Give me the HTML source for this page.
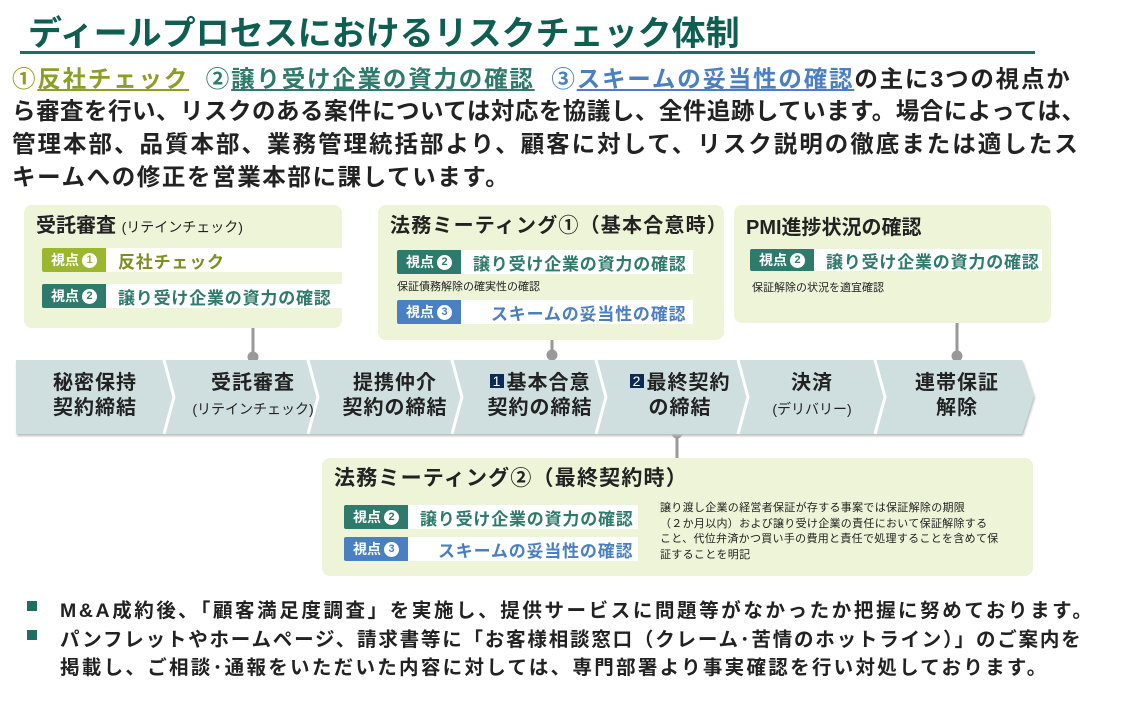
<!DOCTYPE html>
<html><head><meta charset="utf-8">
<style>
body{margin:0;width:1129px;height:712px;background:#fff;position:relative;overflow:hidden;font-family:"Liberation Sans","Noto Sans CJK JP",sans-serif;font-weight:bold;color:#222;}
.a{position:absolute;white-space:nowrap;}
.box{position:absolute;background:#eef4d8;border-radius:8px;}
.tag{position:absolute;height:24px;display:flex;align-items:center;}
.tag .t{width:64px;height:24px;color:#fff;font-size:14px;display:flex;align-items:center;justify-content:center;border-radius:2px 0 0 2px}
.tag .v{background:#fff;height:24px;flex:1;display:flex;align-items:center;padding-left:12px;font-size:17px;letter-spacing:0.8px}
.g1 .t{background:#9ab72d}.g1 .v{color:#7a8f1e}
.g2 .t{background:#2e7a6c}.g2 .v{color:#2e7a6c}
.g3 .t{background:#4a7fc1}.g3 .v{color:#4a7fc1;padding-left:30px}
.c{display:inline-block;width:15px;height:15px;border-radius:50%;background:#fff;font-size:11px;line-height:15px;text-align:center;margin-left:3px}
.g1 .c{color:#9ab72d}.g2 .c{color:#2e7a6c}.g3 .c{color:#4a7fc1}
.small{font-size:11px;font-weight:normal;color:#222}
.p{font-size:23.5px;left:12px}
.st{text-align:center;font-size:20px;line-height:25px;position:absolute;white-space:nowrap;letter-spacing:1px}
.st span{font-weight:normal;font-size:14px;letter-spacing:0}
.n{display:inline-block;background:#0b2a55;color:#fff;font-size:11px;width:14px;height:14px;line-height:14px;text-align:center;vertical-align:3px;margin-right:3px;letter-spacing:0}
.bl{font-size:19.5px;left:60px;letter-spacing:2.6px}
</style></head><body>
<div class="a" style="left:28px;top:6px;font-size:34px;color:#0e5e52;">ディールプロセスにおけるリスクチェック体制</div>
<div class="a" style="left:20px;top:51px;width:1015px;height:3px;background:#1e6e62"></div>
<div class="a p" style="top:60px;letter-spacing:1.8px"><span style="color:#8aa024">①<u>反社チェック</u></span>&nbsp;&nbsp;<span style="color:#2e7a6c">②<u>譲り受け企業の資力の確認</u></span>&nbsp;&nbsp;<span style="color:#4a7fc1">③<u>スキームの妥当性の確認</u></span>の主に3つの視点か</div>
<div class="a p" style="top:92px;letter-spacing:0.5px">ら審査を行い、リスクのある案件については対応を協議し、全件追跡しています。場合によっては、</div>
<div class="a p" style="top:125px;letter-spacing:2px">管理本部、品質本部、業務管理統括部より、顧客に対して、リスク説明の徹底または適したス</div>
<div class="a p" style="top:158px;letter-spacing:1.6px">キームへの修正を営業本部に課しています。</div>

<div class="box" style="left:24px;top:205px;width:318px;height:123px"></div>
<div class="a" style="left:36px;top:209px;font-size:20px">受託審査 <span style="font-size:14px;font-weight:normal">(リテインチェック)</span></div>
<div class="tag g1" style="left:42px;top:248px;width:308px"><div class="t">視点<span class="c">1</span></div><div class="v">反社チェック</div></div>
<div class="tag g2" style="left:42px;top:284px;width:308px"><div class="t">視点<span class="c">2</span></div><div class="v">譲り受け企業の資力の確認</div></div>

<div class="box" style="left:378px;top:205px;width:346px;height:135px"></div>
<div class="a" style="left:390px;top:209px;font-size:20px;letter-spacing:1.2px">法務ミーティング①（基本合意時）</div>
<div class="tag g2" style="left:397px;top:250px;width:296px"><div class="t">視点<span class="c">2</span></div><div class="v">譲り受け企業の資力の確認</div></div>
<div class="a small" style="left:397px;top:278px">保証債務解除の確実性の確認</div>
<div class="tag g3" style="left:397px;top:300px;width:296px"><div class="t">視点<span class="c">3</span></div><div class="v">スキームの妥当性の確認</div></div>

<div class="box" style="left:734px;top:205px;width:317px;height:118px"></div>
<div class="a" style="left:746px;top:211px;font-size:20px">PMI進捗状況の確認</div>
<div class="tag g2" style="left:750px;top:249px;width:292px;height:22px"><div class="t" style="height:22px">視点<span class="c">2</span></div><div class="v" style="height:22px">譲り受け企業の資力の確認</div></div>
<div class="a small" style="left:752px;top:279px">保証解除の状況を適宜確認</div>

<svg class="a" style="left:0;top:320px" width="1129" height="140">
<g stroke="#999" stroke-width="3" fill="#999">
<line x1="253" y1="8" x2="253" y2="37"/><circle cx="253" cy="37" r="4"/>
<line x1="552" y1="20" x2="552" y2="35"/><circle cx="552" cy="35" r="4"/>
<line x1="957" y1="3" x2="957" y2="36"/><circle cx="957" cy="36" r="4"/>
<line x1="677" y1="112" x2="677" y2="138"/><circle cx="677" cy="113" r="4"/>
</g>
<polygon points="16,40 1022,40 1034,76 1022,114 16,114" fill="#cfdfdf" filter="drop-shadow(1px 2px 1px #bbb)"/>
<g stroke="#fff" stroke-width="3" fill="none">
<polyline points="164,40 174,77 164,114"/><polyline points="308,40 318,77 308,114"/>
<polyline points="452,40 462,77 452,114"/><polyline points="596,40 606,77 596,114"/>
<polyline points="738,40 748,77 738,114"/><polyline points="875,40 885,77 875,114"/>
</g>
</svg>
<div class="st" style="left:40px;top:371px;width:110px">秘密保持<br>契約締結</div>
<div class="st" style="left:188px;top:371px;width:130px">受託審査<br><span>(リテインチェック)</span></div>
<div class="st" style="left:335px;top:371px;width:120px">提携仲介<br>契約の締結</div>
<div class="st" style="left:470px;top:371px;width:140px"><span class="n">1</span>基本合意<br>契約の締結</div>
<div class="st" style="left:610px;top:371px;width:140px"><span class="n">2</span>最終契約<br>の締結</div>
<div class="st" style="left:762px;top:371px;width:100px">決済<br><span>(デリバリー)</span></div>
<div class="st" style="left:902px;top:371px;width:110px">連帯保証<br>解除</div>

<div class="box" style="left:322px;top:458px;width:711px;height:118px"></div>
<div class="a" style="left:334px;top:462px;font-size:21px;letter-spacing:1.2px">法務ミーティング②（最終契約時）</div>
<div class="tag g2" style="left:344px;top:505px;width:294px"><div class="t">視点<span class="c">2</span></div><div class="v">譲り受け企業の資力の確認</div></div>
<div class="tag g3" style="left:344px;top:537px;width:294px"><div class="t">視点<span class="c">3</span></div><div class="v">スキームの妥当性の確認</div></div>
<div class="a small" style="left:660px;top:501px;line-height:15.5px;white-space:normal;width:370px;letter-spacing:0.3px">譲り渡し企業の経営者保証が存する事案では保証解除の期限<br>（２か月以内）および譲り受け企業の責任において保証解除する<br>こと、代位弁済かつ買い手の費用と責任で処理することを含めて保<br>証することを明記</div>

<div class="a" style="left:27px;top:601px;width:10px;height:10px;background:#1e6e62"></div>
<div class="a" style="left:27px;top:630px;width:10px;height:10px;background:#1e6e62"></div>
<div class="a bl" style="top:594px">M&amp;A成約後､「顧客満足度調査」を実施し、提供サービスに問題等がなかったか把握に努めております。</div>
<div class="a bl" style="top:623px;letter-spacing:1.8px">パンフレットやホームページ、請求書等に「お客様相談窓口（クレーム･苦情のホットライン）」のご案内を</div>
<div class="a bl" style="top:651px;letter-spacing:2.3px">掲載し、ご相談･通報をいただいた内容に対しては、専門部署より事実確認を行い対処しております。</div>
</body></html>
